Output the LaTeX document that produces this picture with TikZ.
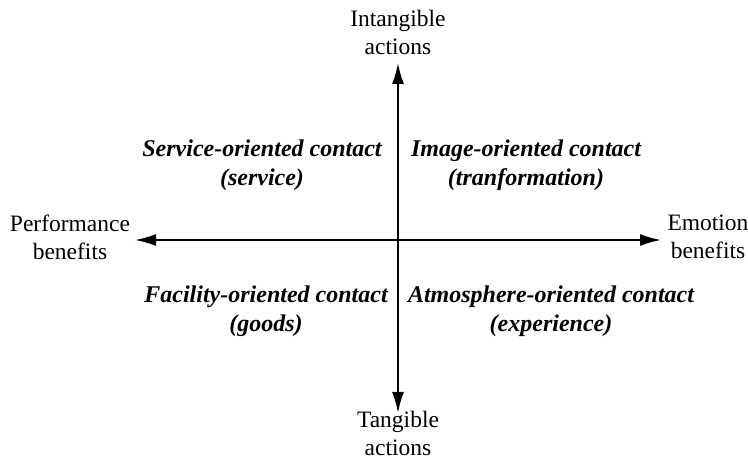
\documentclass[tikz,border=0pt]{standalone}
\usepackage{fontspec}
\setmainfont{Liberation Serif}
\usetikzlibrary{arrows.meta}
\tikzset{
	axislbl/.style={align=center, font=\fontsize{23.5}{28}\selectfont},
	quadlbl/.style={align=center, font=\fontsize{24}{29}\selectfont\bfseries\itshape},
	axisarrow/.style={line width=2pt, -{Latex[length=21pt,width=12pt]}}
}
\begin{document}
\begin{tikzpicture}[x=1pt, y=-1pt]
				\useasboundingbox (0,0) rectangle (748,462);
				\coordinate (o) at (398,240);
				\coordinate (up) at (398,63);
				\coordinate (down) at (398,413);
				\coordinate (left) at (135,240);
				\coordinate (right) at (661,240);
				\draw[axisarrow] (o) -- (up);
				\draw[axisarrow] (o) -- (down);
				\draw[axisarrow] (o) -- (left);
				\draw[axisarrow] (o) -- (right);
				
				\node[axislbl] (intang) at (398,32) {Intangible\\actions};
				\node[axislbl] (tang) at (398,433) {Tangible\\actions};
				\node[axislbl] (perf) at (70,237) {Performance\\benefits};
				\node[axislbl] (emot) at (708,237) {Emotion\\benefits};
				
				\node[quadlbl] (service) at (262,165) {Service-oriented contact\\(service)};
				\node[quadlbl] (image) at (526,165) {Image-oriented contact\\(tranformation)};
				\node[quadlbl] (facility) at (266,311) {Facility-oriented contact\\(goods)};
				\node[quadlbl] (atmos) at (551,311) {Atmosphere-oriented contact\\(experience)};
			\end{tikzpicture}
\end{document}
